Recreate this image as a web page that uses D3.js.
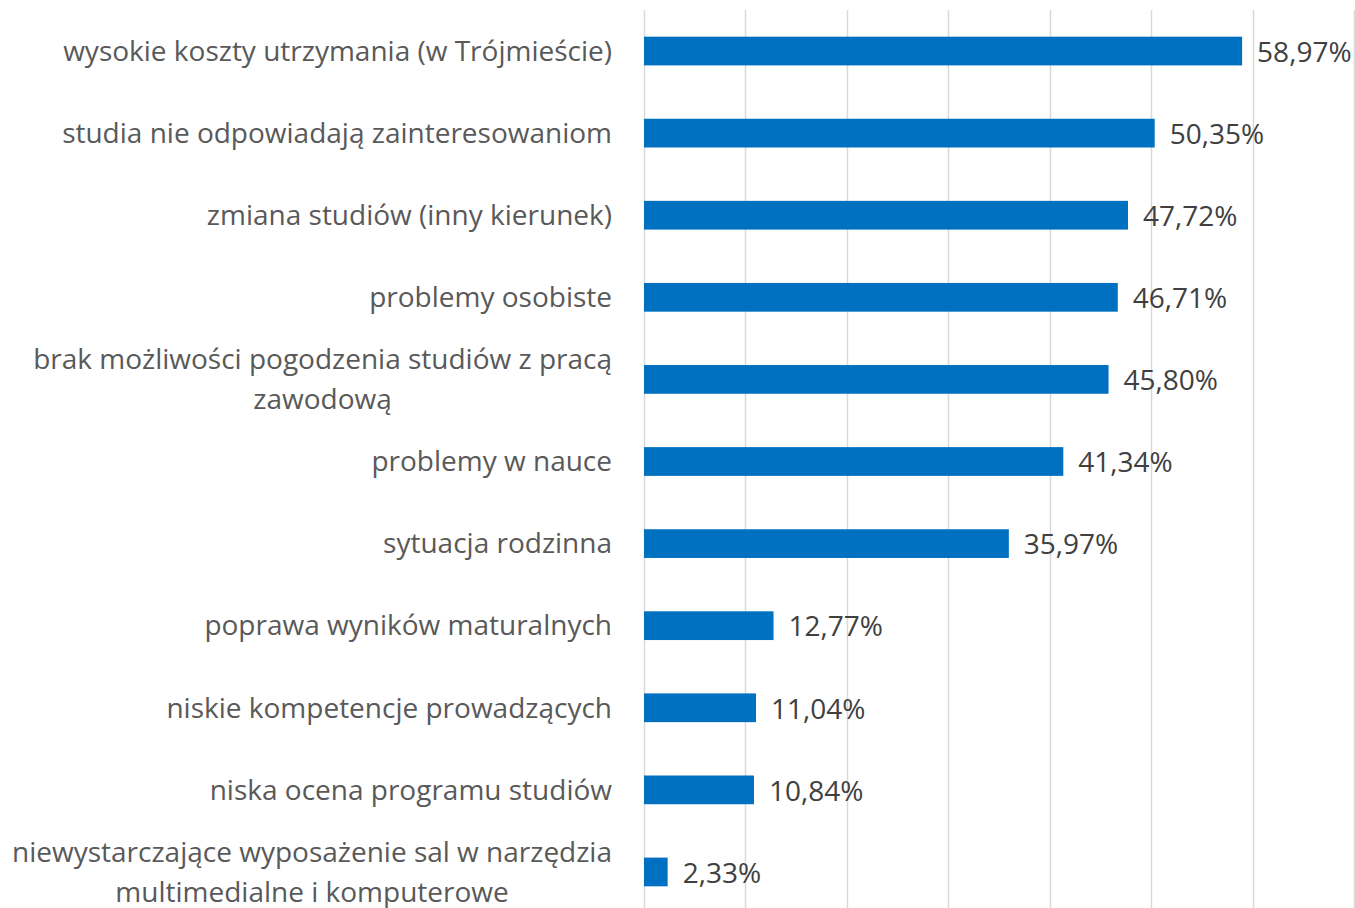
<!DOCTYPE html>
<html>
<head>
<meta charset="utf-8">
<script src="https://cdn.jsdelivr.net/npm/d3@7"></script>
<style>
  html, body { margin: 0; padding: 0; background: #fff; }
  svg { display: block; font-family: "Open Sans", sans-serif; }
</style>
</head>
<body>
<div id="chart"></div>
<script>
// kategorie (linie oddzielone "|")
const categories = [
  'wysokie koszty utrzymania (w Trójmieście)',
  'studia nie odpowiadają zainteresowaniom',
  'zmiana studiów (inny kierunek)',
  'problemy osobiste',
  'brak możliwości pogodzenia studiów z pracą|zawodową',
  'problemy w nauce',
  'sytuacja rodzinna',
  'poprawa wyników maturalnych',
  'niskie kompetencje prowadzących',
  'niska ocena programu studiów',
  'niewystarczające wyposażenie sal w narzędzia|multimedialne i komputerowe'
];
const values = [58.97, 50.35, 47.72, 46.71, 45.80, 41.34, 35.97, 12.77, 11.04, 10.84, 2.33];
const xTicks = [0, 10, 20, 30, 40, 50, 60, 70];

const data = categories.map((c, i) => ({ cat: c, val: values[i] }));

const W = 1355, H = 908;
const svg = d3.select('#chart').append('svg')
  .attr('width', W)
  .attr('height', H);

const x = d3.scaleLinear().domain([0, 70]).range([644, 1354]);
const y = d3.scaleBand()
  .domain(categories)
  .range([10, 913])
  .paddingInner(0.65)
  .paddingOuter(0.325);

// linie siatki
svg.append('g')
  .selectAll('line')
  .data(xTicks)
  .join('line')
  .attr('x1', d => Math.round(x(d)) + 0.5)
  .attr('x2', d => Math.round(x(d)) + 0.5)
  .attr('y1', 10)
  .attr('y2', H)
  .attr('stroke', '#d9d9d9')
  .attr('stroke-width', 1.5);

// słupki
svg.append('g')
  .selectAll('rect')
  .data(data)
  .join('rect')
  .attr('x', x(0))
  .attr('y', d => y(d.cat))
  .attr('width', d => x(d.val) - x(0))
  .attr('height', y.bandwidth())
  .attr('fill', '#0070c0');

const fmt = v => v.toFixed(2).replace('.', ',') + '%';

// etykiety wartości
svg.append('g')
  .selectAll('text')
  .data(data)
  .join('text')
  .attr('x', d => x(d.val) + 15)
  .attr('y', d => y(d.cat) + y.bandwidth() / 2 + 1)
  .attr('dy', '0.35em')
  .style('font-size', '28px')
  .style('fill', '#404040')
  .text(d => fmt(d.val));

// etykiety kategorii
const labels = svg.append('g')
  .selectAll('text')
  .data(data)
  .join('text')
  .attr('text-anchor', 'middle')
  .style('font-size', '28px')
  .style('fill', '#595959');

labels.each(function(d) {
  const lines = d.cat.split('|');
  const t = d3.select(this);
  const cy = y(d.cat) + y.bandwidth() / 2;
  const lh = 40;
  lines.forEach((ln, i) => {
    t.append('tspan')
      .attr('y', cy + (i - (lines.length - 1) / 2) * lh)
      .attr('dy', '0.35em')
      .text(ln);
  });
});

// blok wyrównany do prawej, linie wyśrodkowane względem siebie
labels.each(function() {
  const t = d3.select(this);
  const tspans = t.selectAll('tspan').nodes();
  const maxW = d3.max(tspans, n => n.getComputedTextLength());
  const cx = 612 - maxW / 2;
  t.selectAll('tspan').attr('x', cx);
});
</script>
</body>
</html>
